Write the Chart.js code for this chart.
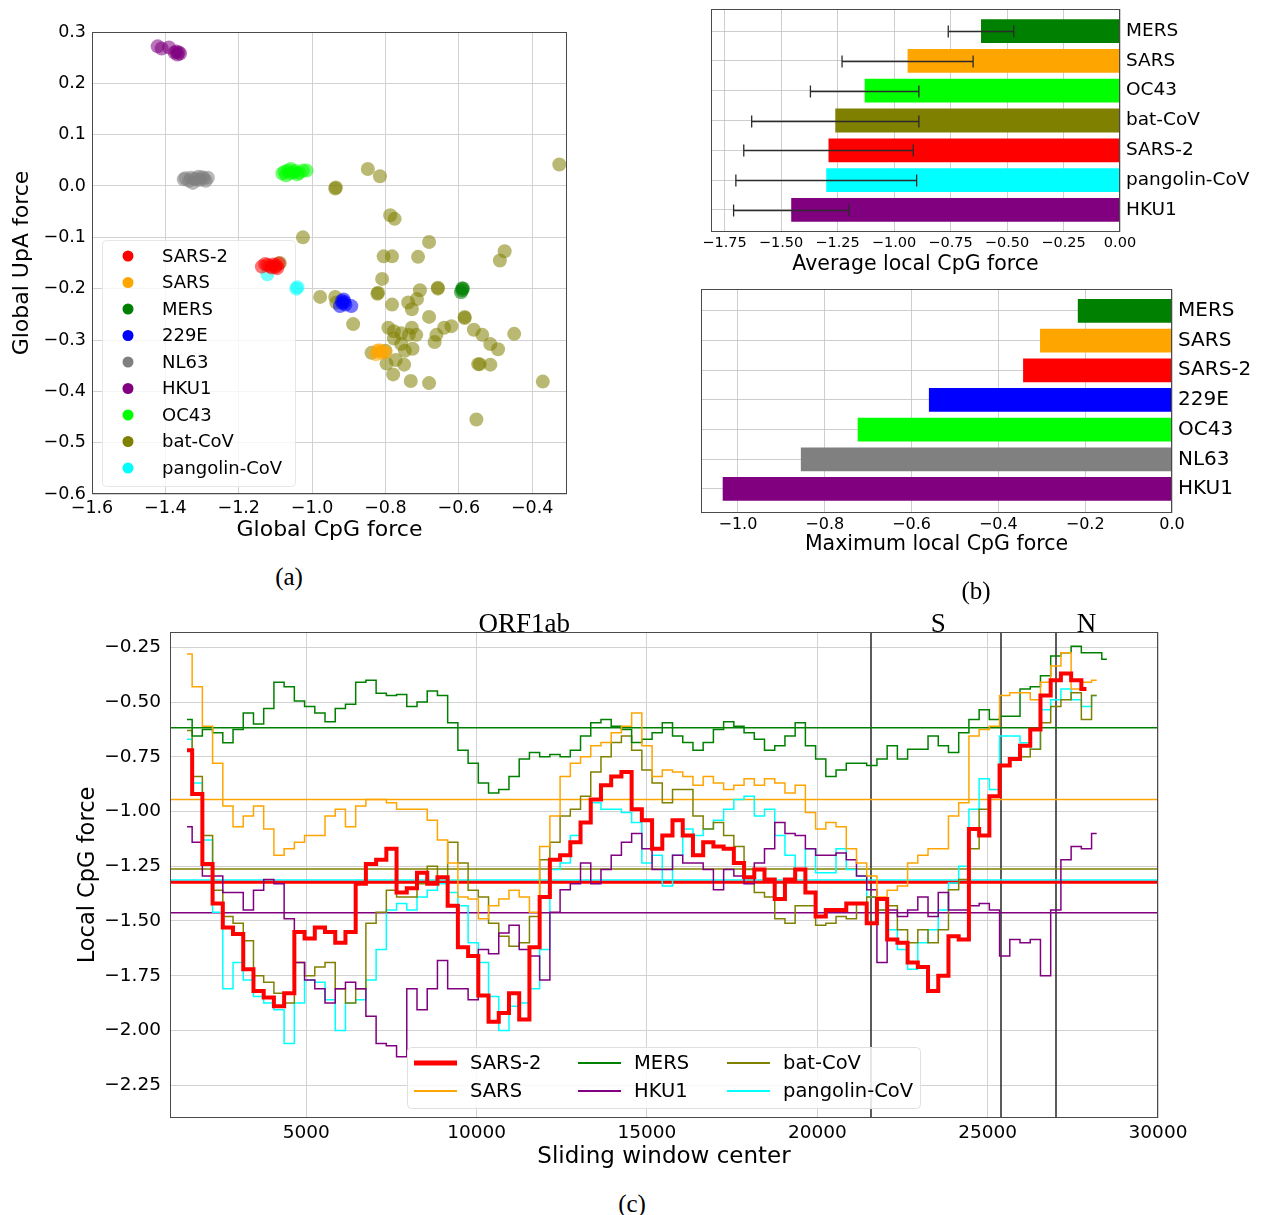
<!DOCTYPE html>
<html>
<head>
<meta charset="utf-8">
<title>Local CpG force in coronavirus genomes</title>
<script src="https://cdn.jsdelivr.net/npm/chart.js@4.4.1/dist/chart.umd.min.js"></script>
<style>
    body { margin: 0; background: #fff; }
    .figure { position: relative; width: 1263px; height: 1215px; overflow: hidden; }
    .figure canvas { position: absolute; }
    .caption {
        position: absolute;
        font-family: "Liberation Serif", serif;
        font-size: 25px;
        transform: translate(-50%, -50%);
    }
</style>
</head>
<body>
<div class="figure">
    <canvas id="globalChart" width="600" height="560" style="left:0px;top:0px"></canvas>
    <canvas id="avgChart" width="573" height="285" style="left:690px;top:0px"></canvas>
    <canvas id="maxChart" width="573" height="290" style="left:690px;top:280px"></canvas>
    <canvas id="slidingChart" width="1263" height="585" style="left:0px;top:600px"></canvas>
    <div class="caption" style="left:289px;top:577px">(a)</div>
    <div class="caption" style="left:976px;top:591px">(b)</div>
    <div class="caption" style="left:632px;top:1204px">(c)</div>
</div>

<script>
// ---- colours per virus ----
const virusColors = {
    'SARS-2': '#ff0000',
    'SARS': '#ffa500',
    'MERS': '#008000',
    '229E': '#0000ff',
    'NL63': '#808080',
    'HKU1': '#800080',
    'OC43': '#00ff00',
    'bat-CoV': '#808000',
    'pangolin-CoV': '#00ffff'
};

// ---- (a) global CpG / UpA forces, [CpG, UpA] per genome ----
const sars2Global = [[-1.137, -0.157], [-1.122, -0.154], [-1.101, -0.158], [-1.091, -0.151], [-1.106, -0.153], [-1.115, -0.156], [-1.095, -0.160], [-1.128, -0.152], [-1.110, -0.159], [-1.098, -0.155]];
const sarsGlobal = [[-0.822, -0.321], [-0.812, -0.325], [-0.800, -0.324], [-0.826, -0.328], [-0.817, -0.320], [-0.808, -0.322]];
const mersGlobal = [[-0.589, -0.200], [-0.594, -0.207], [-0.591, -0.203], [-0.590, -0.199]];
const e229Global = [[-0.919, -0.224], [-0.909, -0.231], [-0.924, -0.234], [-0.893, -0.234], [-0.914, -0.221], [-0.917, -0.228], [-0.912, -0.226]];
const nl63Global = [[-1.345, 0.015], [-1.330, 0.016], [-1.315, 0.0125], [-1.300, 0.017], [-1.284, 0.016], [-1.325, 0.006], [-1.290, 0.010], [-1.350, 0.013], [-1.310, 0.018], [-1.335, 0.010], [-1.320, 0.014], [-1.305, 0.012], [-1.295, 0.015]];
const hku1Global = [[-1.421, 0.272], [-1.410, 0.268], [-1.390, 0.270], [-1.375, 0.260], [-1.367, 0.256], [-1.360, 0.258], [-1.370, 0.262], [-1.364, 0.260]];
const oc43Global = [[-1.081, 0.0244], [-1.066, 0.030], [-1.050, 0.0265], [-1.040, 0.023], [-1.025, 0.030], [-1.015, 0.030], [-1.071, 0.021], [-1.058, 0.033], [-1.075, 0.028], [-1.060, 0.025], [-1.045, 0.029], [-1.035, 0.026]];
const batGlobal = [
    [-0.848, 0.033], [-0.815, 0.019], [-0.937, -0.005], [-0.935, -0.003], [-0.326, 0.042], [-0.787, -0.057],
    [-0.775, -0.064], [-1.025, -0.100], [-0.681, -0.109], [-0.805, -0.137], [-0.782, -0.137], [-0.711, -0.138],
    [-0.475, -0.127], [-0.488, -0.145], [-0.809, -0.181], [-0.706, -0.203], [-0.657, -0.200], [-0.822, -0.210],
    [-0.738, -0.227], [-0.714, -0.220], [-0.782, -0.231], [-0.728, -0.240], [-0.978, -0.216], [-0.937, -0.216],
    [-0.934, -0.227], [-0.888, -0.269], [-0.681, -0.255], [-0.584, -0.257], [-0.620, -0.273], [-0.640, -0.276],
    [-0.661, -0.290], [-0.666, -0.304], [-0.792, -0.276], [-0.777, -0.283], [-0.757, -0.287], [-0.736, -0.290],
    [-0.716, -0.290], [-0.728, -0.276], [-0.777, -0.297], [-0.800, -0.321], [-0.757, -0.308], [-0.559, -0.280],
    [-0.536, -0.290], [-0.514, -0.308], [-0.493, -0.318], [-0.449, -0.288], [-0.747, -0.321], [-0.726, -0.317],
    [-0.772, -0.339], [-0.749, -0.348], [-0.797, -0.346], [-0.779, -0.367], [-0.543, -0.347], [-0.547, -0.347],
    [-0.514, -0.348], [-0.731, -0.380], [-0.681, -0.384], [-0.371, -0.381], [-0.552, -0.455], [-0.838, -0.325],
    [-1.088, -0.150], [-0.820, -0.208], [-0.657, -0.198], [-0.584, -0.255]
];
const pangolinGlobal = [[-1.122, -0.172], [-1.043, -0.200], [-1.040, -0.197]];
const globalCpgTicks = [-1.6, -1.4, -1.2, -1.0, -0.8, -0.6, -0.4];
const globalUpaTicks = [0.3, 0.2, 0.1, 0.0, -0.1, -0.2, -0.3, -0.4, -0.5, -0.6];
const scatterLegendNames = ['SARS-2', 'SARS', 'MERS', '229E', 'NL63', 'HKU1', 'OC43', 'bat-CoV', 'pangolin-CoV'];

// ---- (b) average and maximum local CpG force ----
const avgNames = ['MERS', 'SARS', 'OC43', 'bat-CoV', 'SARS-2', 'pangolin-CoV', 'HKU1'];
const avgLocal = [-0.615, -0.94, -1.13, -1.26, -1.29, -1.30, -1.455];
const avgLocalStd = [0.145, 0.29, 0.24, 0.37, 0.375, 0.40, 0.255];
const avgTicks = [-1.75, -1.5, -1.25, -1.0, -0.75, -0.5, -0.25, 0.0];
const maxNames = ['MERS', 'SARS', 'SARS-2', '229E', 'OC43', 'NL63', 'HKU1'];
const maxLocal = [-0.217, -0.304, -0.343, -0.56, -0.724, -0.855, -1.035];
const maxTicks = [-1.0, -0.8, -0.6, -0.4, -0.2, 0.0];
const barIndexTicks = [0, 1, 2, 3, 4, 5, 6];

// ---- (c) local CpG force along the genome ----
const windowCenters = [
    1500, 1800, 2100, 2400, 2700, 3000, 3300, 3600, 3900, 4200, 4500, 4800, 5100, 5400, 5700, 6000,
    6300, 6600, 6900, 7200, 7500, 7800, 8100, 8400, 8700, 9000, 9300, 9600, 9900, 10200, 10500, 10800,
    11100, 11400, 11700, 12000, 12300, 12600, 12900, 13200, 13500, 13800, 14100, 14400, 14700, 15000, 15300, 15600,
    15900, 16200, 16500, 16800, 17100, 17400, 17700, 18000, 18300, 18600, 18900, 19200, 19500, 19800, 20100, 20400,
    20700, 21000, 21300, 21600, 21900, 22200, 22500, 22800, 23100, 23400, 23700, 24000, 24300, 24600, 24900, 25200,
    25500, 25800, 26100, 26400, 26700, 27000, 27300, 27600, 27900, 28200, 28500
];
const sars2Local = [
    -0.72, -0.92, -1.24, -1.42, -1.53, -1.56, -1.72, -1.82, -1.85, -1.89, -1.83, -1.55, -1.58, -1.53, -1.55, -1.60,
    -1.55, -1.33, -1.24, -1.22, -1.17, -1.37, -1.35, -1.28, -1.33, -1.30, -1.43, -1.62, -1.66, -1.84, -1.96,
    -1.92, -1.83, -1.95, -1.62, -1.39, -1.22, -1.20, -1.14, -1.05, -0.945, -0.88, -0.84, -0.82, -0.99, -1.04, -1.17,
    -1.11, -1.04, -1.11, -1.20, -1.14, -1.16, -1.17, -1.235, -1.30, -1.265, -1.31, -1.40, -1.31, -1.265, -1.37, -1.48,
    -1.45, -1.45, -1.42, -1.42, -1.51, -1.40, -1.585, -1.60, -1.69, -1.71, -1.82, -1.75, -1.57, -1.585, -1.08, -1.11,
    -0.93, -0.79, -0.76, -0.70, -0.625, -0.47, -0.40, -0.37, -0.40, -0.44, null, null
];
const mersLocal = [
    -0.58, -0.655, -0.625, -0.64, -0.686, -0.625, -0.55, -0.60, -0.53, -0.41, -0.43, -0.495, -0.52, -0.55, -0.59, -0.53,
    -0.51, -0.41, -0.40, -0.46, -0.47, -0.465, -0.52, -0.50, -0.45, -0.47, -0.595, -0.72, -0.78, -0.87, -0.915,
    -0.90, -0.84, -0.76, -0.73, -0.75, -0.74, -0.75, -0.72, -0.655, -0.595, -0.58, -0.61, -0.625, -0.685, -0.67, -0.64,
    -0.595, -0.655, -0.685, -0.72, -0.685, -0.625, -0.59, -0.61, -0.64, -0.67, -0.72, -0.70, -0.655, -0.595, -0.70, -0.76,
    -0.84, -0.81, -0.78, -0.78, -0.79, -0.76, -0.70, -0.76, -0.716, -0.716, -0.655, -0.70, -0.73, -0.64, -0.58, -0.535,
    -0.58, -0.565, -0.565, -0.44, -0.43, -0.38, -0.29, -0.275, -0.245, -0.275, -0.275, -0.305
];
const sarsLocal = [
    -0.28, -0.43, -0.61, -0.78, -0.975, -1.07, -1.02, -0.975, -1.08, -1.20, -1.17, -1.14, -1.11, -1.11, -1.02, -0.99,
    -1.07, -0.975, -0.945, -0.945, -0.96, -0.99, -0.99, -0.99, -1.04, -1.13, -1.235, -1.39, -1.40, -1.49, -1.43,
    -1.40, -1.36, -1.39, -1.46, -1.16, -1.02, -0.84, -0.78, -0.75, -0.70, -0.685, -0.64, -0.61, -0.55, -0.70, -0.84,
    -0.81, -0.82, -0.84, -0.88, -0.84, -0.87, -0.90, -0.88, -0.85, -0.88, -0.85, -0.87, -0.915, -0.88, -1.005, -1.08,
    -1.05, -1.07, -1.17, -1.235, -1.295, -1.39, -1.36, -1.34, -1.235, -1.20, -1.17, -1.17, -1.02, -0.96, -0.655, -0.625,
    -0.61, -0.47, -0.457, -0.457, -0.49, -0.41, -0.335, -0.275, -0.44, -0.41, -0.40, null
];
const hku1Local = [
    -1.07, -1.14, -1.295, -1.295, -1.37, -1.37, -1.45, -1.36, -1.31, -1.33, -1.49, -1.69, -1.77, -1.81, -1.875, -1.81,
    -1.78, -1.81, -1.935, -2.06, -2.07, -2.12, -1.81, -1.905, -1.81, -1.68, -1.81, -1.81, -1.86, -1.63, -1.65,
    -1.555, -1.52, -1.63, -1.66, -1.77, -1.46, -1.357, -1.33, -1.235, -1.33, -1.265, -1.20, -1.14, -1.10, -1.17, -1.265,
    -1.265, -1.20, -1.235, -1.235, -1.265, -1.357, -1.265, -1.295, -1.33, -1.235, -1.17, -1.05, -1.10, -1.11, -1.17, -1.20,
    -1.20, -1.19, -1.22, -1.295, -1.357, -1.69, -1.45, -1.48, -1.45, -1.39, -1.48, -1.37, -1.45, -1.45, -1.43, -1.42,
    -1.45, -1.66, -1.585, -1.60, -1.585, -1.75, -1.45, -1.22, -1.16, -1.17, -1.10, null
];
const batLocal = [
    -0.63, -0.84, -1.11, -1.36, -1.48, -1.51, -1.59, -1.75, -1.78, -1.83, -1.875, -1.69, -1.75, -1.71, -1.69, -1.81,
    -1.875, -1.81, -1.51, -1.46, -1.36, -1.39, -1.39, -1.33, -1.25, -1.30, -1.14, -1.235, -1.36, -1.39, -1.51,
    -1.57, -1.616, -1.60, -1.48, -1.22, -1.14, -1.02, -0.99, -0.93, -0.82, -0.75, -0.685, -0.655, -0.72, -0.81, -0.87,
    -0.96, -0.90, -0.90, -1.02, -1.08, -1.05, -1.11, -1.16, -1.265, -1.37, -1.39, -1.49, -1.51, -1.43, -1.43, -1.52,
    -1.51, -1.48, -1.49, -1.42, -1.39, -1.45, -1.43, -1.54, -1.60, -1.54, -1.60, -1.54, -1.357, -1.31, -1.17, -0.99,
    -0.93, -0.79, -0.76, -0.75, -0.716, -0.595, -0.52, -0.49, -0.457, -0.58, -0.47, null
];
const pangolinLocal = [
    -0.67, -0.87, -1.13, -1.46, -1.81, -1.69, -1.77, -1.845, -1.875, -1.905, -2.06, -1.875, -1.77, -1.78, -1.86, -2.0,
    -1.875, -1.86, -1.77, -1.63, -1.45, -1.42, -1.45, -1.39, -1.36, -1.33, -1.37, -1.43, -1.60, -1.69, -1.845,
    -2.0, -1.89, -1.875, -1.81, -1.63, -1.265, -1.235, -1.11, -1.05, -0.96, -0.99, -0.99, -1.005, -1.05, -1.235, -1.20,
    -1.34, -1.20, -1.08, -1.11, -1.08, -1.04, -0.99, -0.945, -0.93, -1.02, -0.99, -1.11, -1.20, -1.265, -1.17, -1.28,
    -1.28, -1.17, -1.265, -1.295, -1.39, -1.45, -1.54, -1.63, -1.72, -1.60, -1.54, -1.45, -1.327, -1.25, -0.99, -0.85,
    -0.90, -0.655, -0.655, -0.686, -0.716, -0.535, -0.49, -0.44, -0.49, -0.52, -0.47, null
];
// genome-wide mean of the local force (horizontal lines)
const meanNames = ['SARS-2', 'SARS', 'MERS', 'HKU1', 'bat-CoV', 'pangolin-CoV'];
const meanLocal = [-1.323, -0.945, -0.617, -1.462, -1.263, -1.313];
const windowTicks = [5000, 10000, 15000, 20000, 25000, 30000];
const localTicks = [-2.25, -2.0, -1.75, -1.5, -1.25, -1.0, -0.75, -0.5, -0.25];
const geneBounds = [21563, 25384, 27000];
const geneNames = ['ORF1ab', 'S', 'N'];
const geneLabelPos = [11400, 23550, 27900];

const gridColor = '#d2d2d2';
const frameColor = '#4a4a4a';

Chart.defaults.font.family = '"DejaVu Sans", sans-serif';
Chart.defaults.color = '#000';

function fmtTick(v, digits) {
    const s = Math.abs(v) < 1e-9 ? (0).toFixed(digits) : v.toFixed(digits);
    return s.replace('-', '\u2212');
}

function withAlpha(hex, a) {
    const n = parseInt(hex.slice(1), 16);
    return 'rgba(' + (n >> 16) + ',' + ((n >> 8) & 255) + ',' + (n & 255) + ',' + a + ')';
}

// full box round the plot, like matplotlib spines
const framePlugin = {
    id: 'frame',
    afterDraw(chart) {
        const { ctx, chartArea } = chart;
        ctx.save();
        ctx.strokeStyle = frameColor;
        ctx.lineWidth = 1;
        ctx.strokeRect(Math.round(chartArea.left) + 0.5, Math.round(chartArea.top) + 0.5,
            Math.round(chartArea.right - chartArea.left) - 1, Math.round(chartArea.bottom - chartArea.top) - 1);
        ctx.restore();
    }
};

document.addEventListener('DOMContentLoaded', function() {
    initializeGlobalChart();
    initializeAvgChart();
    initializeMaxChart();
    initializeSlidingChart();
});

function initializeGlobalChart() {
    const groups = [
        ['SARS-2', sars2Global], ['SARS', sarsGlobal], ['MERS', mersGlobal], ['229E', e229Global],
        ['NL63', nl63Global], ['HKU1', hku1Global], ['OC43', oc43Global], ['bat-CoV', batGlobal],
        ['pangolin-CoV', pangolinGlobal]
    ];

    // legend in the lower left corner: frame under the points, entries on top
    const scatterLegend = {
        id: 'scatterLegend',
        beforeDatasetsDraw(chart) {
            const ctx = chart.ctx;
            ctx.save();
            ctx.fillStyle = 'rgba(255,255,255,0.8)';
            ctx.strokeStyle = '#e6e6e6';
            ctx.beginPath();
            ctx.roundRect(102.5, 240.5, 193, 246, 4);
            ctx.fill();
            ctx.stroke();
            ctx.restore();
        },
        afterDraw(chart) {
            const ctx = chart.ctx;
            ctx.save();
            ctx.font = '18px "DejaVu Sans"';
            ctx.textBaseline = 'middle';
            scatterLegendNames.forEach(function(name, i) {
                const y = 256 + i * 26.5;
                ctx.fillStyle = virusColors[name];
                ctx.beginPath();
                ctx.arc(128, y, 5.5, 0, Math.PI * 2);
                ctx.fill();
                ctx.fillStyle = '#000';
                ctx.fillText(name, 162, y + 1);
            });
            ctx.restore();
        }
    };

    const ctx = document.getElementById('globalChart').getContext('2d');
    new Chart(ctx, {
        type: 'scatter',
        data: {
            datasets: groups.map(function(g) {
                return {
                    label: g[0],
                    data: g[1].map(p => ({ x: p[0], y: p[1] })),
                    backgroundColor: withAlpha(virusColors[g[0]], 0.55),
                    borderWidth: 0,
                    pointRadius: 7,
                    pointHoverRadius: 7
                };
            })
        },
        options: {
            responsive: false,
            animation: false,
            layout: { padding: { left: 9, top: 32, right: 33, bottom: 17 } },
            plugins: { legend: { display: false }, tooltip: { enabled: false } },
            scales: {
                x: {
                    type: 'linear',
                    min: -1.6,
                    max: -0.305,
                    afterBuildTicks: s => { s.ticks = globalCpgTicks.map(v => ({ value: v })); },
                    afterFit: s => { s.height = 49; },
                    ticks: { autoSkip: false, maxRotation: 0, padding: 4, font: { size: 17.5 }, callback: v => fmtTick(v, 1) },
                    grid: { color: gridColor, drawTicks: false },
                    border: { display: false },
                    title: { display: true, text: 'Global CpG force', font: { size: 22 }, padding: 0 }
                },
                y: {
                    type: 'linear',
                    min: -0.6,
                    max: 0.3,
                    afterBuildTicks: s => { s.ticks = globalUpaTicks.map(v => ({ value: v })); },
                    afterFit: s => { s.width = 83; },
                    ticks: { autoSkip: false, padding: 6, font: { size: 17.5 }, callback: v => fmtTick(v, 1) },
                    grid: { color: gridColor, drawTicks: false },
                    border: { display: false },
                    title: { display: true, text: 'Global UpA force', font: { size: 22 }, padding: 0 }
                }
            }
        },
        plugins: [framePlugin, scatterLegend]
    });
}

function horizontalBarOptions(cfg) {
    return {
        responsive: false,
        animation: false,
        indexAxis: 'y',
        layout: { padding: cfg.padding },
        plugins: { legend: { display: false }, tooltip: { enabled: false } },
        scales: {
            x: {
                type: 'linear',
                min: cfg.xMin,
                max: 0,
                z: 1,
                afterBuildTicks: s => { s.ticks = cfg.xTicks.map(v => ({ value: v })); },
                afterFit: s => { s.height = cfg.xHeight; s.paddingLeft = 0; s.paddingRight = 0; },
                ticks: { autoSkip: false, maxRotation: 0, padding: cfg.tickPad, font: { size: cfg.tickSize }, callback: v => fmtTick(v, cfg.digits) },
                grid: { color: 'rgba(190,190,190,0.75)', drawTicks: false },
                border: { display: false },
                title: { display: true, text: cfg.title, font: { size: 20.5 }, padding: 0 }
            },
            y: {
                type: 'linear',
                position: 'right',
                reverse: true,
                offset: false,
                min: cfg.yMin,
                max: cfg.yMax,
                z: 1,
                afterBuildTicks: s => { s.ticks = barIndexTicks.map(v => ({ value: v })); },
                // labels sit on the bars, not on the axis ends: no extra padding needed
                afterFit: s => { s.width = cfg.yWidth; s.paddingTop = 0; s.paddingBottom = 0; },
                ticks: { autoSkip: false, padding: 6, font: { size: cfg.labelSize }, callback: v => cfg.names[v] },
                grid: { color: 'rgba(190,190,190,0.75)', drawTicks: false, offset: false },
                border: { display: false }
            }
        }
    };
}

function initializeAvgChart() {
    // std error bars on the average bars
    const errorBars = {
        id: 'errorBars',
        afterDatasetsDraw(chart) {
            const { ctx, scales: { x, y } } = chart;
            ctx.save();
            ctx.strokeStyle = '#2b2b2b';
            ctx.lineWidth = 1.3;
            avgLocal.forEach(function(v, i) {
                const py = Math.round(y.getPixelForValue(i)) + 0.5;
                const x0 = x.getPixelForValue(v - avgLocalStd[i]);
                const x1 = x.getPixelForValue(v + avgLocalStd[i]);
                ctx.beginPath();
                ctx.moveTo(x0, py); ctx.lineTo(x1, py);
                ctx.moveTo(x0, py - 6); ctx.lineTo(x0, py + 6);
                ctx.moveTo(x1, py - 6); ctx.lineTo(x1, py + 6);
                ctx.stroke();
            });
            ctx.restore();
        }
    };

    const ctx = document.getElementById('avgChart').getContext('2d');
    new Chart(ctx, {
        type: 'bar',
        data: {
            datasets: [{
                data: avgLocal.map((v, i) => ({ x: v, y: i })),
                backgroundColor: avgNames.map(n => virusColors[n]),
                borderWidth: 0,
                barPercentage: 0.8,
                categoryPercentage: 1.0
            }]
        },
        options: horizontalBarOptions({
            padding: { left: 21, top: 9, right: 0, bottom: 8 },
            xMin: -1.81, xTicks: avgTicks, digits: 2, xHeight: 45, tickPad: 3, tickSize: 14.5,
            yMin: -0.74, yMax: 6.74, yWidth: 143, labelSize: 18.5, names: avgNames,
            title: 'Average local CpG force'
        }),
        plugins: [framePlugin, errorBars]
    });
}

function initializeMaxChart() {
    const ctx = document.getElementById('maxChart').getContext('2d');
    new Chart(ctx, {
        type: 'bar',
        data: {
            datasets: [{
                data: maxLocal.map((v, i) => ({ x: v, y: i })),
                backgroundColor: maxNames.map(n => virusColors[n]),
                borderWidth: 0,
                barPercentage: 0.8,
                categoryPercentage: 1.0
            }]
        },
        options: horizontalBarOptions({
            padding: { left: 11, top: 9, right: 0, bottom: 13 },
            xMin: -1.085, xTicks: maxTicks, digits: 1, xHeight: 44, tickPad: 2, tickSize: 16,
            yMin: -0.74, yMax: 6.81, yWidth: 91, labelSize: 20, names: maxNames,
            title: 'Maximum local CpG force'
        }),
        plugins: [framePlugin]
    });
}

function initializeSlidingChart() {
    const series = [
        ['SARS-2', sars2Local, 4],
        ['SARS', sarsLocal, 1.5],
        ['MERS', mersLocal, 1.5],
        ['HKU1', hku1Local, 1.5],
        ['bat-CoV', batLocal, 1.5],
        ['pangolin-CoV', pangolinLocal, 1.5]
    ];
    const xMin = 1000;
    const xMax = 30000;

    const datasets = series.map(function(s) {
        return {
            label: s[0],
            data: s[1].map((v, i) => ({ x: windowCenters[i], y: v })),
            borderColor: virusColors[s[0]],
            borderWidth: s[2],
            pointRadius: 0,
            stepped: 'middle',
            fill: false
        };
    });
    // genome-wide averages drawn underneath
    meanNames.forEach(function(name, i) {
        datasets.push({
            label: name + ' mean',
            data: [{ x: xMin, y: meanLocal[i] }, { x: xMax, y: meanLocal[i] }],
            borderColor: virusColors[name],
            borderWidth: name === 'SARS-2' ? 3 : 1.5,
            pointRadius: 0,
            fill: false
        });
    });

    // gene boundaries and names
    const genePlugin = {
        id: 'genes',
        beforeDatasetsDraw(chart) {
            const { ctx, chartArea, scales: { x } } = chart;
            ctx.save();
            ctx.strokeStyle = '#333';
            ctx.lineWidth = 1.6;
            geneBounds.forEach(function(b) {
                const px = Math.round(x.getPixelForValue(b));
                ctx.beginPath();
                ctx.moveTo(px, chartArea.top);
                ctx.lineTo(px, chartArea.bottom);
                ctx.stroke();
            });
            ctx.restore();
        },
        afterDraw(chart) {
            const { ctx, chartArea, scales: { x } } = chart;
            ctx.save();
            ctx.fillStyle = '#000';
            ctx.font = '27px "Liberation Serif"';
            ctx.textAlign = 'center';
            ctx.textBaseline = 'alphabetic';
            geneNames.forEach(function(g, i) {
                ctx.fillText(g, x.getPixelForValue(geneLabelPos[i]), chartArea.top);
            });
            ctx.restore();
        }
    };

    // legend box, three columns
    const lineLegend = {
        id: 'lineLegend',
        afterDraw(chart) {
            const ctx = chart.ctx;
            const colX = [414, 578, 727];
            const rowY = [463, 491];
            ctx.save();
            ctx.fillStyle = 'rgba(255,255,255,0.85)';
            ctx.strokeStyle = '#e0e0e0';
            ctx.beginPath();
            ctx.roundRect(407.5, 447.5, 513, 61, 4);
            ctx.fill();
            ctx.stroke();
            ctx.font = '19.5px "DejaVu Sans"';
            ctx.textBaseline = 'middle';
            series.forEach(function(s, i) {
                const x = colX[Math.floor(i / 2)];
                const y = rowY[i % 2];
                ctx.strokeStyle = virusColors[s[0]];
                ctx.lineWidth = s[0] === 'SARS-2' ? 5 : 2;
                ctx.beginPath();
                ctx.moveTo(x, y);
                ctx.lineTo(x + 43, y);
                ctx.stroke();
                ctx.fillStyle = '#000';
                ctx.fillText(s[0], x + 56, y + 1);
            });
            ctx.restore();
        }
    };

    const ctx = document.getElementById('slidingChart').getContext('2d');
    new Chart(ctx, {
        type: 'line',
        data: { datasets: datasets },
        options: {
            responsive: false,
            animation: false,
            layout: { padding: { left: 75, top: 32, right: 105, bottom: 14 } },
            plugins: { legend: { display: false }, tooltip: { enabled: false } },
            scales: {
                x: {
                    type: 'linear',
                    min: xMin,
                    max: xMax,
                    afterBuildTicks: s => { s.ticks = windowTicks.map(v => ({ value: v })); },
                    afterFit: s => { s.height = 53; },
                    ticks: { autoSkip: false, maxRotation: 0, padding: 4, font: { size: 18.5 }, callback: v => String(v) },
                    grid: { color: gridColor, drawTicks: false },
                    border: { display: false },
                    title: { display: true, text: 'Sliding window center', font: { size: 23 }, padding: 0 }
                },
                y: {
                    type: 'linear',
                    min: -2.40,
                    max: -0.18,
                    afterBuildTicks: s => { s.ticks = localTicks.map(v => ({ value: v })); },
                    afterFit: s => { s.width = 95; },
                    ticks: { autoSkip: false, padding: 9, font: { size: 18.5 }, callback: v => fmtTick(v, 2) },
                    grid: { color: gridColor, drawTicks: false },
                    border: { display: false },
                    title: { display: true, text: 'Local CpG force', font: { size: 22.5 }, padding: 0 }
                }
            }
        },
        plugins: [framePlugin, genePlugin, lineLegend]
    });
}
</script>
</body>
</html>
